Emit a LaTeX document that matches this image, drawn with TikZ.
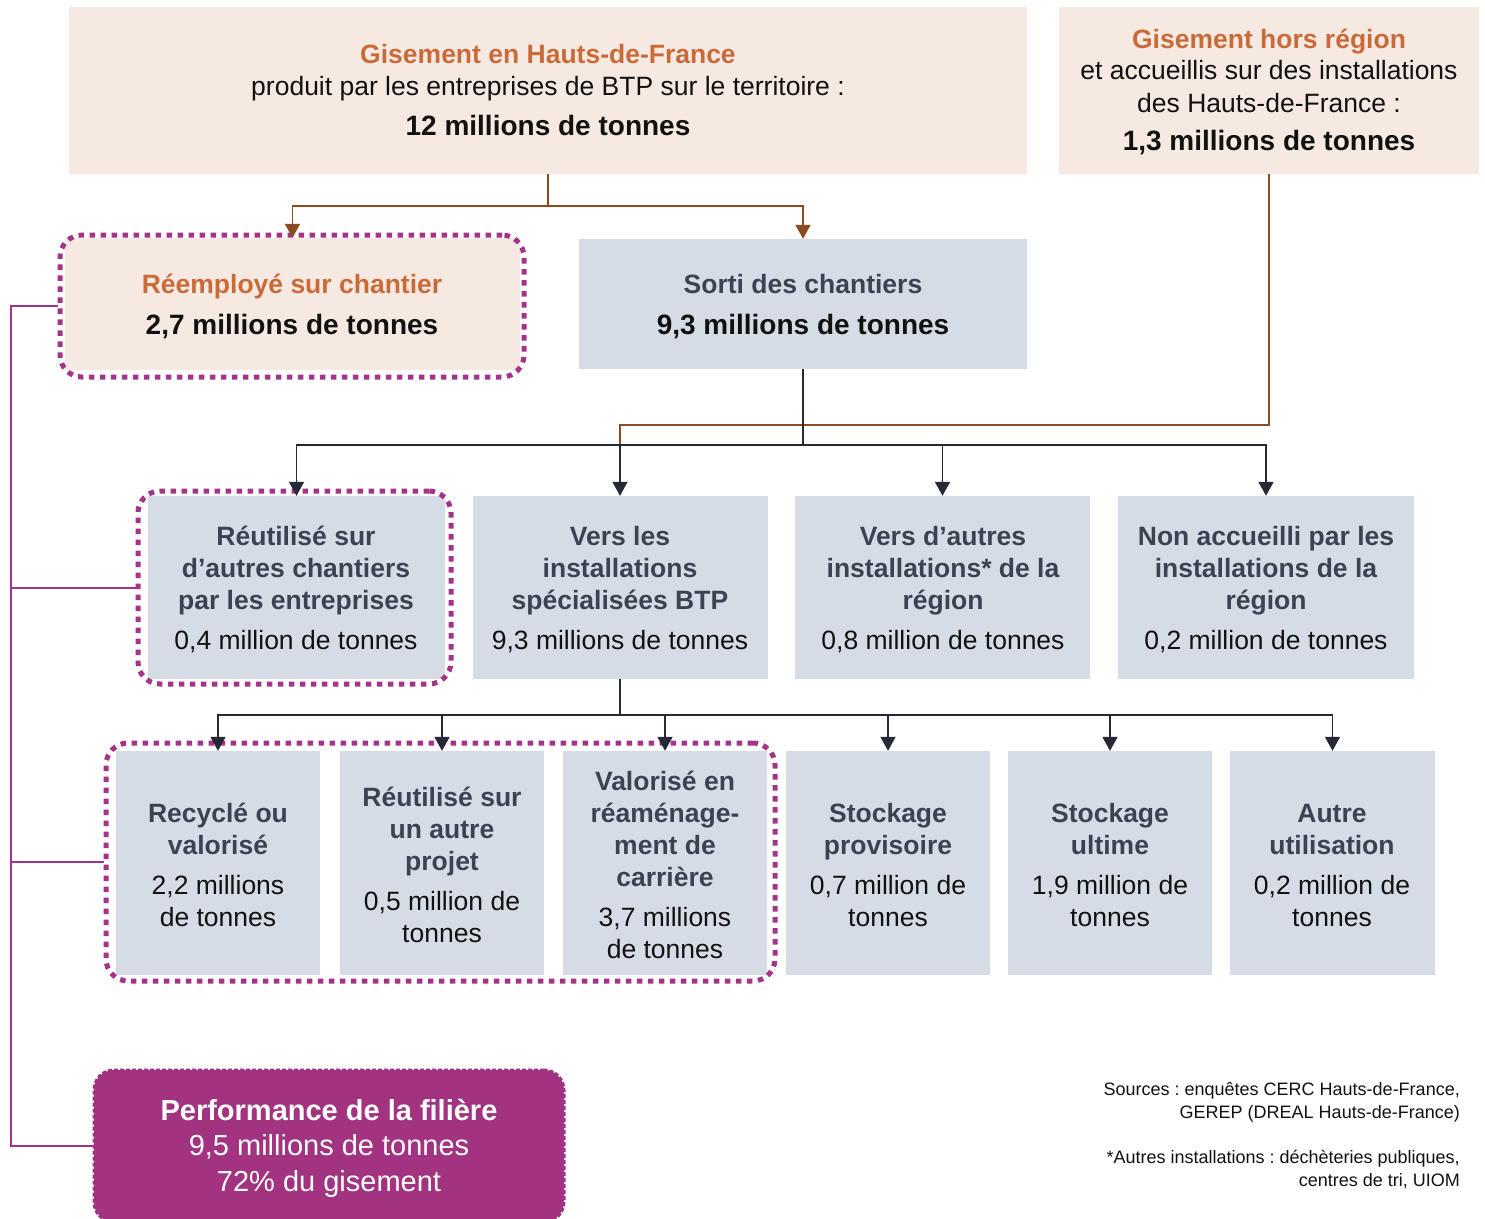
\documentclass[tikz,border=0pt]{standalone}
\usepackage{fontspec}
\setmainfont{Liberation Sans}
\usetikzlibrary{arrows.meta}
\frenchspacing
\definecolor{peach}{HTML}{F6E9E1}
\definecolor{slateB}{HTML}{D6DCE5}
\definecolor{orangeT}{HTML}{C96B38}
\definecolor{darkT}{HTML}{3B4353}
\definecolor{blackT}{HTML}{111111}
\definecolor{brownL}{HTML}{8A4B22}
\definecolor{blackL}{HTML}{252A35}
\definecolor{purp}{HTML}{A5338A}
\definecolor{perfC}{HTML}{A23380}
\newcommand{\fA}{\fontsize{26.5}{32}\selectfont}
\newcommand{\fB}{\fontsize{28}{32}\selectfont}
\newcommand{\fP}{\fontsize{29}{35.5}\selectfont}
\newcommand{\fS}{\fontsize{18}{23}\selectfont}
\newcommand{\ctab}[1]{\begin{tabular}[t]{@{}c@{}}#1\end{tabular}}
\newcommand{\rtab}[1]{\begin{tabular}[t]{@{}r@{}}#1\end{tabular}}
\newcommand{\hd}[1]{{\color{darkT}\bfseries #1}}
\newcommand{\ho}[1]{{\color{orangeT}\bfseries #1}}
\newcommand{\hb}[1]{{\fB\bfseries #1}}
\tikzset{
  box/.style={rectangle, inner sep=0pt, draw=none},
  pbox/.style={box, fill=peach},
  gbox/.style={box, fill=slateB},
  frame/.style={rectangle, draw=purp, line width=5pt, dash pattern=on 5.5pt off 5.5pt, rounded corners=22pt, inner sep=0pt},
  txt/.style={anchor=base, inner sep=0pt, font=\fA, text=blackT},
  bline/.style={draw=brownL, line width=1.8pt},
  barrow/.style={bline, -{Triangle[width=15pt,length=14pt]}},
  kline/.style={draw=blackL, line width=1.8pt},
  karrow/.style={kline, -{Triangle[width=15pt,length=14pt]}},
  pline/.style={draw=purp, line width=2pt},
}
\begin{document}
\begin{tikzpicture}[x=1pt, y=-1pt]
\useasboundingbox (0,0) rectangle (1485,1218);
% boxes
\node[pbox, minimum width=958pt, minimum height=167pt] (b1) at (548,90.5) {};
\node[pbox, minimum width=420pt, minimum height=167pt] (b2) at (1269,90.5) {};
\node[pbox, minimum width=455pt, minimum height=132pt] (b3) at (292.5,304) {};
\node[gbox, minimum width=448pt, minimum height=130pt] (b4) at (803,304) {};
% row 2
\node[gbox, minimum width=297pt, minimum height=183pt] (r1) at (296.5,587.5) {};
\node[gbox, minimum width=295pt, minimum height=183pt] (r2) at (620,587.5) {};
\node[gbox, minimum width=295pt, minimum height=183pt] (r3) at (942.5,587.5) {};
\node[gbox, minimum width=296pt, minimum height=183pt] (r4) at (1266,587.5) {};
% row 3
\node[gbox, minimum width=204pt, minimum height=224pt] (s1) at (218,863) {};
\node[gbox, minimum width=204pt, minimum height=224pt] (s2) at (442,863) {};
\node[gbox, minimum width=204pt, minimum height=224pt] (s3) at (665,863) {};
\node[gbox, minimum width=204pt, minimum height=224pt] (s4) at (888,863) {};
\node[gbox, minimum width=204pt, minimum height=224pt] (s5) at (1110,863) {};
\node[gbox, minimum width=205pt, minimum height=224pt] (s6) at (1332.5,863) {};
% performance
\node[rectangle, inner sep=0pt, fill=perfC, draw=perfC, line width=3pt, dash pattern=on 4pt off 2pt, rounded corners=20pt, minimum width=470pt, minimum height=152pt] (pf) at (329,1146) {};
% dotted frames
\node[frame, minimum width=464pt, minimum height=142pt] (fr1) at (292,306) {};
\node[frame, minimum width=313pt, minimum height=193pt] (fr2) at (294.5,587.5) {};
\node[frame, minimum width=669pt, minimum height=238pt] (fr3) at (440.5,862) {};
% purple links
\coordinate (sp1) at (11,306);
\coordinate (sp4) at (11,1146);
\draw[pline] (fr1.west) -- (sp1) -- (sp4) -- (pf.west);
\draw[pline] (fr2.west) -- (fr2.west -| sp1);
\draw[pline] (fr3.west) -- (fr3.west -| sp1);
% brown links
\coordinate (j1) at (548,206);
\draw[bline] (b1.south) -- (j1);
\draw[barrow] (j1) -| (b3.north);
\draw[barrow] (j1) -| (b4.north);
\coordinate (k1) at (620,425);
\coordinate (k2) at (620,445);
\draw[bline] (b2.south) |- (k1) -- (k2);
% black links
\coordinate (j4) at (803,445);
\draw[kline] (b4.south) -- (j4);
\draw[karrow] (j4) -| (r1.north);
\draw[karrow] (j4) -| (r2.north);
\draw[karrow] (j4) -| (r3.north);
\draw[karrow] (j4) -| (r4.north);
\coordinate (j5) at (620,715);
\draw[kline] (r2.south) -- (j5);
\draw[karrow] (j5) -| (s1.north);
\draw[karrow] (j5) -| (s2.north);
\draw[karrow] (j5) -| (s3.north);
\draw[karrow] (j5) -| (s4.north);
\draw[karrow] (j5) -| (s5.north);
\draw[karrow] (j5) -| (s6.north);
% texts
\node[txt] (t1) at (548,63) {\ctab{\ho{Gisement en Hauts-de-France}\\ produit par les entreprises de BTP sur le territoire :\\[8pt] \hb{12 millions de tonnes}}};
\node[txt] (t2) at (1269,48) {\ctab{\ho{Gisement hors région}\\ et accueillis sur des installations\\ des Hauts-de-France :\\[6pt] \hb{1,3 millions de tonnes}}};
\node[txt] (t3) at (292,293) {\ctab{\ho{Réemployé sur chantier}\\[9pt] \hb{2,7 millions de tonnes}}};
\node[txt] (t4) at (803,293) {\ctab{\hd{Sorti des chantiers}\\[9pt] \hb{9,3 millions de tonnes}}};
\node[txt] (tr1) at (296,545) {\ctab{\hd{Réutilisé sur}\\ \hd{d’autres chantiers}\\ \hd{par les entreprises}\\[8pt] 0,4 million de tonnes}};
\node[txt] (tr2) at (620,545) {\ctab{\hd{Vers les}\\ \hd{installations}\\ \hd{spécialisées BTP}\\[8pt] 9,3 millions de tonnes}};
\node[txt] (tr3) at (943,545) {\ctab{\hd{Vers d’autres}\\ \hd{installations* de la}\\ \hd{région}\\[8pt] 0,8 million de tonnes}};
\node[txt] (tr4) at (1266,545) {\ctab{\hd{Non accueilli par les}\\ \hd{installations de la}\\ \hd{région}\\[8pt] 0,2 million de tonnes}};
\node[txt] (ts1) at (218,822) {\ctab{\hd{Recyclé ou}\\ \hd{valorisé}\\[8pt] 2,2 millions\\ de tonnes}};
\node[txt] (ts2) at (442,806) {\ctab{\hd{Réutilisé sur}\\ \hd{un autre}\\ \hd{projet}\\[8pt] 0,5 million de\\ tonnes}};
\node[txt] (ts3) at (665,790) {\ctab{\hd{Valorisé en}\\ \hd{réaménage-}\\ \hd{ment de}\\ \hd{carrière}\\[8pt] 3,7 millions\\ de tonnes}};
\node[txt] (ts4) at (888,822) {\ctab{\hd{Stockage}\\ \hd{provisoire}\\[8pt] 0,7 million de\\ tonnes}};
\node[txt] (ts5) at (1110,822) {\ctab{\hd{Stockage}\\ \hd{ultime}\\[8pt] 1,9 million de\\ tonnes}};
\node[txt] (ts6) at (1332,822) {\ctab{\hd{Autre}\\ \hd{utilisation}\\[8pt] 0,2 million de\\ tonnes}};
\node[txt, font=\fP, text=white] (tp) at (329,1120) {\ctab{\textbf{Performance de la filière}\\ 9,5 millions de tonnes\\ 72\% du gisement}};
\node[txt, font=\fS, anchor=base east] (src) at (1460,1095) {\rtab{Sources : enquêtes CERC Hauts-de-France,\\ GEREP (DREAL Hauts-de-France)\\[22pt] *Autres installations : déchèteries publiques,\\ centres de tri, UIOM}};
\end{tikzpicture}
\end{document}
